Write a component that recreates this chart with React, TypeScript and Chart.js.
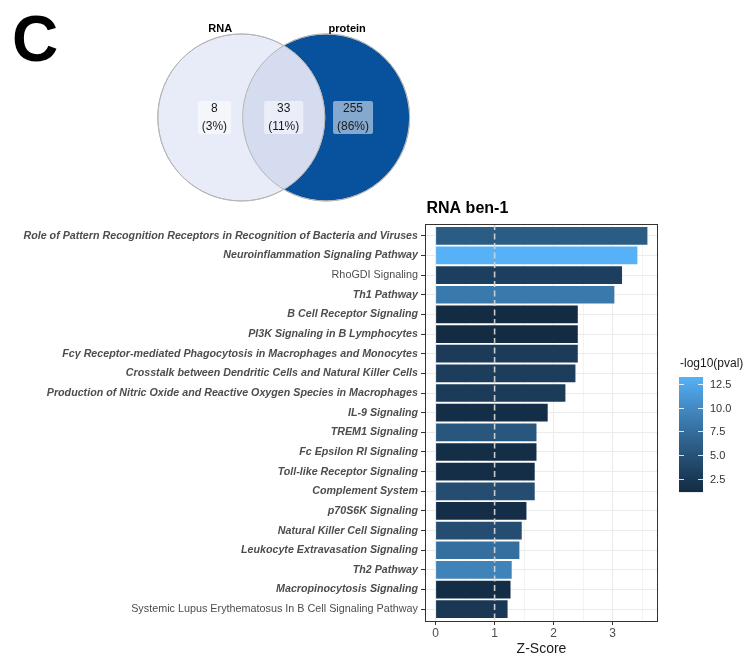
import React, { useEffect, useRef } from "react";
import { Chart, registerables } from "chart.js";

Chart.register(...registerables);

// ---- Venn: RNA vs protein ----
const setNames = ["RNA", "protein"];
const regionCounts = [8, 33, 255]; // RNA only, shared, protein only

// ---- Enriched pathways (RNA ben-1) ----
const pathways = [
  "Role of Pattern Recognition Receptors in Recognition of Bacteria and Viruses",
  "Neuroinflammation Signaling Pathway",
  "RhoGDI Signaling",
  "Th1 Pathway",
  "B Cell Receptor Signaling",
  "PI3K Signaling in B Lymphocytes",
  "Fcγ Receptor-mediated Phagocytosis in Macrophages and Monocytes",
  "Crosstalk between Dendritic Cells and Natural Killer Cells",
  "Production of Nitric Oxide and Reactive Oxygen Species in Macrophages",
  "IL-9 Signaling",
  "TREM1 Signaling",
  "Fc Epsilon RI Signaling",
  "Toll-like Receptor Signaling",
  "Complement System",
  "p70S6K Signaling",
  "Natural Killer Cell Signaling",
  "Leukocyte Extravasation Signaling",
  "Th2 Pathway",
  "Macropinocytosis Signaling",
  "Systemic Lupus Erythematosus In B Cell Signaling Pathway",
];
const zScores = [
  3.59, 3.42, 3.16, 3.03, 2.41, 2.41, 2.41, 2.37, 2.2, 1.9,
  1.71, 1.71, 1.68, 1.68, 1.54, 1.46, 1.42, 1.29, 1.27, 1.22,
];
const negLog10P = [
  5.85, 13.24, 3.18, 8.5, 1.2, 1.12, 2.7, 2.94, 2.7, 1.48,
  5.36, 1.48, 1.48, 4.51, 1.48, 4.51, 7.66, 9.36, 1.36, 2.45,
];
const plainPathways = ["RhoGDI Signaling", "Systemic Lupus Erythematosus In B Cell Signaling Pathway"];
const legendTicks = [2.5, 5, 7.5, 10, 12.5];
const zThreshold = 1;
const title = "RNA ben-1";

const LOW = "#132B43";
const HIGH = "#56B1F7";
const FONT = "'Liberation Sans', Arial, sans-serif";

// ---- colour ramp in CIELAB ----
function hexToRgb(h: string) {
  const n = parseInt(h.slice(1), 16);
  return [(n >> 16) & 255, (n >> 8) & 255, n & 255];
}
const toLin = (c: number) => {
  c /= 255;
  return c <= 0.04045 ? c / 12.92 : Math.pow((c + 0.055) / 1.055, 2.4);
};
const fromLin = (c: number) => {
  const v = c <= 0.0031308 ? 12.92 * c : 1.055 * Math.pow(c, 1 / 2.4) - 0.055;
  return Math.round(Math.max(0, Math.min(1, v)) * 255);
};
const WX = 0.95047, WY = 1, WZ = 1.08883;
function rgbToLab(rgb: number[]) {
  const [r, g, b] = rgb.map(toLin);
  const X = 0.4124564 * r + 0.3575761 * g + 0.1804375 * b;
  const Y = 0.2126729 * r + 0.7151522 * g + 0.072175 * b;
  const Z = 0.0193339 * r + 0.119192 * g + 0.9503041 * b;
  const f = (t: number) => (t > 0.008856 ? Math.cbrt(t) : 7.787 * t + 16 / 116);
  const fx = f(X / WX), fy = f(Y / WY), fz = f(Z / WZ);
  return [116 * fy - 16, 500 * (fx - fy), 200 * (fy - fz)];
}
function labToRgb(lab: number[]) {
  const [L, a, bb] = lab;
  const fy = (L + 16) / 116, fx = fy + a / 500, fz = fy - bb / 200;
  const inv = (t: number) => (t * t * t > 0.008856 ? t * t * t : (t - 16 / 116) / 7.787);
  const X = inv(fx) * WX, Y = inv(fy) * WY, Z = inv(fz) * WZ;
  const r = 3.2404542 * X - 1.5371385 * Y - 0.4985314 * Z;
  const g = -0.969266 * X + 1.8760108 * Y + 0.041556 * Z;
  const b = 0.0556434 * X - 0.2040259 * Y + 1.0572252 * Z;
  return `rgb(${fromLin(r)},${fromLin(g)},${fromLin(b)})`;
}
const labLow = rgbToLab(hexToRgb(LOW));
const labHigh = rgbToLab(hexToRgb(HIGH));
const pMin = Math.min(...negLog10P);
const pMax = Math.max(...negLog10P);
function fillFor(v: number) {
  const t = Math.max(0, Math.min(1, (v - pMin) / (pMax - pMin)));
  return labToRgb(labLow.map((c, i) => c + (labHigh[i] - c) * t));
}

const zMax = Math.max(...zScores);

// ---- bar chart extras: threshold line, panel border, title, colourbar ----
const barExtras = {
  id: "barExtras",
  afterDatasetsDraw(chart: any) {
    const { ctx, chartArea, scales } = chart;
    const x = scales.x.getPixelForValue(zThreshold);
    ctx.save();
    ctx.strokeStyle = "rgba(212,212,212,0.95)";
    ctx.lineWidth = 1.6;
    ctx.setLineDash([6, 3.5]);
    ctx.beginPath();
    ctx.moveTo(x, chartArea.top);
    ctx.lineTo(x, chartArea.bottom);
    ctx.stroke();
    ctx.restore();
  },
  afterDraw(chart: any) {
    const { ctx, chartArea } = chart;
    ctx.save();
    // panel border
    ctx.strokeStyle = "#333333";
    ctx.lineWidth = 1;
    ctx.strokeRect(chartArea.left + 0.5, chartArea.top + 0.5, chartArea.right - chartArea.left - 1, chartArea.bottom - chartArea.top);
    // title
    ctx.fillStyle = "#000";
    ctx.font = `bold 16px ${FONT}`;
    ctx.textAlign = "left";
    ctx.textBaseline = "alphabetic";
    ctx.fillText(title, chartArea.left + 1.5, chartArea.top - 11);

    // colourbar legend
    const bx = chartArea.right + 21;
    const bw = 24;
    const by = 377;
    const bh = 115;
    ctx.font = `12px ${FONT}`;
    ctx.fillStyle = "#1a1a1a";
    ctx.fillText("-log10(pval)", bx + 1, by - 10);
    for (let i = 0; i < bh; i++) {
      const v = pMax - ((i + 0.5) / bh) * (pMax - pMin);
      ctx.fillStyle = fillFor(v);
      ctx.fillRect(bx, by + i, bw, 1.1);
    }
    ctx.font = `11px ${FONT}`;
    ctx.textBaseline = "middle";
    ctx.strokeStyle = "rgba(255,255,255,0.85)";
    ctx.lineWidth = 1;
    legendTicks.forEach((v) => {
      const yy = Math.round(by + bh - ((v - pMin) / (pMax - pMin)) * bh) + 0.5;
      ctx.beginPath();
      ctx.moveTo(bx, yy);
      ctx.lineTo(bx + 5, yy);
      ctx.moveTo(bx + bw - 5, yy);
      ctx.lineTo(bx + bw, yy);
      ctx.stroke();
      ctx.fillStyle = "#333";
      ctx.fillText(v.toFixed(1), bx + bw + 7, yy);
    });
    ctx.restore();
  },
};

// ---- venn extras: overlap, outlines, labels ----
const vennRadius = 1;
const vennOffset = 0.508;
const vennLabelX = 0.83;

const vennExtras = {
  id: "vennExtras",
  afterDatasetsDraw(chart: any) {
    const { ctx, scales } = chart;
    const px = (v: number) => scales.x.getPixelForValue(v);
    const py = (v: number) => scales.y.getPixelForValue(v);
    const r = px(vennRadius) - px(0);
    const cy = py(0);
    const c1 = px(-vennOffset);
    const c2 = px(vennOffset);
    ctx.save();
    ctx.beginPath();
    ctx.arc(c1, cy, r, 0, Math.PI * 2);
    ctx.clip();
    ctx.beginPath();
    ctx.arc(c2, cy, r, 0, Math.PI * 2);
    ctx.fillStyle = "#D6DCF0";
    ctx.fill();
    ctx.restore();

    ctx.save();
    ctx.strokeStyle = "#B5B5B5";
    ctx.lineWidth = 1;
    [c1, c2].forEach((c) => {
      ctx.beginPath();
      ctx.arc(c, cy, r, 0, Math.PI * 2);
      ctx.stroke();
    });

    // set names
    ctx.fillStyle = "#000";
    ctx.font = `bold 11px ${FONT}`;
    ctx.textAlign = "center";
    ctx.textBaseline = "middle";
    ctx.fillText(setNames[0], px(-vennLabelX + 0.07), py(1.06));
    ctx.fillText(setNames[1], px(vennLabelX - 0.07), py(1.06));

    // region counts
    const total = regionCounts.reduce((a, b) => a + b, 0);
    const xs = [-vennLabelX, 0, vennLabelX];
    ctx.font = `12px ${FONT}`;
    regionCounts.forEach((n, i) => {
      const l1 = String(n);
      const l2 = `(${Math.round((n / total) * 100)}%)`;
      const w = Math.max(ctx.measureText(l1).width, ctx.measureText(l2).width) + 8;
      const cx = px(xs[i]);
      ctx.fillStyle = "rgba(255,255,255,0.5)";
      ctx.beginPath();
      (ctx as any).roundRect(cx - w / 2, cy - 16.5, w, 33, 2);
      ctx.fill();
      ctx.fillStyle = "#1a1a1a";
      ctx.fillText(l1, cx, cy - 8.5);
      ctx.fillText(l2, cx, cy + 9.5);
    });

    // panel letter
    ctx.font = `bold 64px ${FONT}`;
    ctx.textAlign = "left";
    ctx.textBaseline = "alphabetic";
    ctx.fillStyle = "#000";
    ctx.fillText("C", 12, 61);
    ctx.restore();
  },
};

export default function App() {
  const barRef = useRef<HTMLCanvasElement>(null);
  const vennRef = useRef<HTMLCanvasElement>(null);

  useEffect(() => {
    document.body.style.margin = "0";
    Chart.defaults.font.family = FONT;

    const bar = new Chart(barRef.current!, {
      type: "bar",
      data: {
        datasets: [
          {
            data: zScores.map((z, i) => ({ x: z, y: i })),
            backgroundColor: negLog10P.map(fillFor),
            borderWidth: 0,
            barPercentage: 0.9,
            categoryPercentage: 1,
          },
        ],
      },
      options: {
        indexAxis: "y",
        responsive: false,
        animation: false,
        events: [],
        layout: { padding: { top: 224, right: 91, left: 0, bottom: 0 } },
        plugins: { legend: { display: false }, tooltip: { enabled: false }, title: { display: false } },
        scales: {
          y: {
            type: "linear",
            reverse: true,
            offset: false,
            min: -0.6,
            max: pathways.length - 0.4,
            afterBuildTicks: (s: any) => {
              s.ticks = pathways.map((_, i) => ({ value: i }));
            },
            afterFit: (s: any) => {
              s.width = 425;
            },
            border: { display: false },
            grid: { offset: false, color: "#EBEBEB", lineWidth: 1, tickColor: "#333333", tickLength: 4, drawTicks: true },
            ticks: {
              autoSkip: false,
              padding: 3,
              color: "#4D4D4D",
              callback: (v: any) => pathways[v] ?? "",
              font: (ctx: any) => {
                const label = pathways[ctx.tick?.value];
                return plainPathways.includes(label)
                  ? { family: FONT, size: 10.8, style: "normal", weight: "normal" }
                  : { family: FONT, size: 10.7, style: "italic", weight: "bold" };
              },
            },
          },
          x: {
            type: "linear",
            offset: false,
            min: -0.05 * zMax,
            max: 1.05 * zMax,
            afterBuildTicks: (s: any) => {
              const t = [];
              for (let v = 0; v <= s.max + 1e-9; v += 0.5) t.push({ value: v });
              s.ticks = t;
            },
            afterFit: (s: any) => {
              s.height = 43;
            },
            border: { display: false },
            grid: {
              offset: false,
              color: "#EBEBEB",
              lineWidth: (ctx: any) => (ctx.tick && Number.isInteger(ctx.tick.value) ? 1 : 0.6),
              tickColor: (ctx: any) => (ctx.tick && Number.isInteger(ctx.tick.value) ? "#333333" : "rgba(0,0,0,0)"),
              tickLength: 4,
            },
            ticks: {
              autoSkip: false,
              maxRotation: 0,
              padding: 1,
              color: "#4D4D4D",
              font: { size: 12 },
              callback: (v: any) => (Number.isInteger(v) ? String(v) : ""),
            },
            title: {
              display: true,
              text: "Z-Score",
              color: "#1a1a1a",
              font: { size: 14 },
              padding: { top: 0, bottom: 6 },
            },
          },
        },
      },
      plugins: [barExtras],
    } as any);

    const venn = new Chart(vennRef.current!, {
      type: "scatter",
      data: {
        datasets: [
          {
            data: [{ x: -vennOffset, y: 0 }],
            backgroundColor: "#E8ECF8",
            borderColor: "#B5B5B5",
            borderWidth: 1,
            pointRadius: (ctx: any) => ctx.chart.scales.x.getPixelForValue(vennRadius) - ctx.chart.scales.x.getPixelForValue(0),
          },
          {
            data: [{ x: vennOffset, y: 0 }],
            backgroundColor: "#08519C",
            borderColor: "#B5B5B5",
            borderWidth: 1,
            pointRadius: (ctx: any) => ctx.chart.scales.x.getPixelForValue(vennRadius) - ctx.chart.scales.x.getPixelForValue(0),
          },
        ],
      },
      options: {
        responsive: false,
        animation: false,
        events: [],
        layout: { padding: 0 },
        plugins: { legend: { display: false }, tooltip: { enabled: false } },
        scales: {
          x: { type: "linear", display: false, min: -3.398, max: 1.752 },
          y: { type: "linear", display: false, min: -1.168, max: 1.407 },
        },
      },
      plugins: [vennExtras],
    } as any);

    return () => {
      bar.destroy();
      venn.destroy();
    };
  }, []);

  return (
    <div style={{ position: "relative", width: 749, height: 664, background: "#fff" }}>
      <canvas ref={barRef} width={749} height={664} style={{ position: "absolute", left: 0, top: 0 }} />
      <canvas ref={vennRef} width={430} height={215} style={{ position: "absolute", left: 0, top: 0 }} />
    </div>
  );
}
